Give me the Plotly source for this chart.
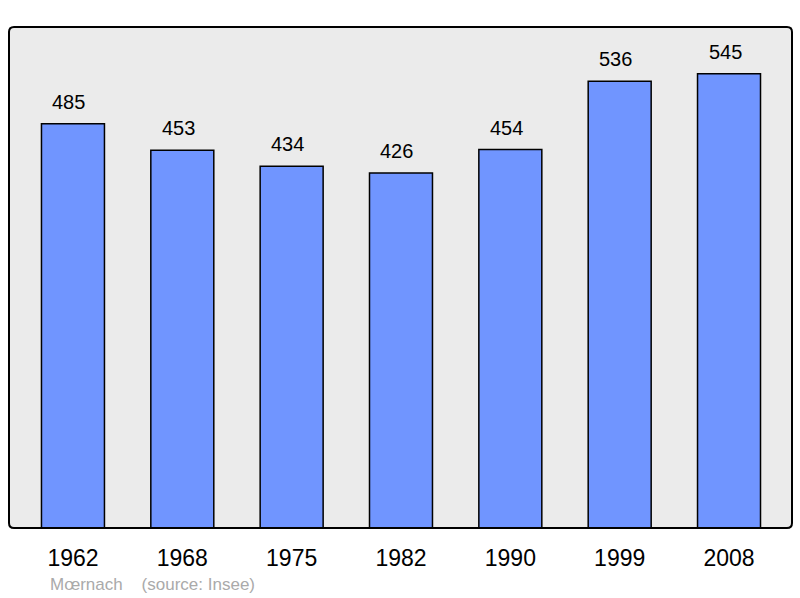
import plotly.graph_objects as go

years = ["1962", "1968", "1975", "1982", "1990", "1999", "2008"]
population = [485, 453, 434, 426, 454, 536, 545]
source_text = "Mœrnach    (source: Insee)"

W, H = 800, 598
L, R, T, B = 9, 8, 27, 70
pw, ph = W - L - R, H - T - B

fig = go.Figure()
fig.add_trace(go.Bar(
    x=list(range(len(years))), y=population,
    width=0.576,
    marker=dict(color="#7095ff", line=dict(color="#000000", width=1.5)),
    hoverinfo="skip",
))

for i, v in enumerate(population):
    fig.add_annotation(x=i, y=v, text=str(v), showarrow=False, yshift=22, xshift=-4,
                       font=dict(family="Liberation Sans, Arial", size=20, color="#000000"))

fig.add_annotation(x=48 / pw - L / pw, y=-(584 - 528) / ph, xref="paper", yref="paper",
                   text=source_text, showarrow=False, xanchor="left", yanchor="middle",
                   font=dict(family="Liberation Sans, Arial", size=17, color="#aaaaaa"))

rx, ry = 5 / pw, 5 / ph
path = (f"M {rx},0 L {1-rx},0 Q 1,0 1,{ry} L 1,{1-ry} Q 1,1 {1-rx},1 "
        f"L {rx},1 Q 0,1 0,{1-ry} L 0,{ry} Q 0,0 {rx},0 Z")

fig.update_layout(
    width=W, height=H,
    margin=dict(l=L, r=R, t=T, b=B, pad=0),
    paper_bgcolor="#ffffff", plot_bgcolor="#ebebeb",
    showlegend=False,
    xaxis=dict(range=[-0.585, 6.576], tickmode="array", tickvals=list(range(len(years))),
               ticktext=years, showgrid=False, zeroline=False, ticks="outside",
               ticklen=9, tickcolor="rgba(0,0,0,0)", fixedrange=True,
               tickfont=dict(family="Liberation Sans, Arial", size=23, color="#000000")),
    yaxis=dict(range=[0, 601], showgrid=False, zeroline=False, showticklabels=False,
               fixedrange=True),
    shapes=[dict(type="path", xref="paper", yref="paper", path=path,
                 line=dict(color="#000000", width=2), fillcolor="rgba(0,0,0,0)", layer="above")],
)

fig.write_html("out.html", config={"displayModeBar": False},
               post_script="document.body.style.margin='0';")
